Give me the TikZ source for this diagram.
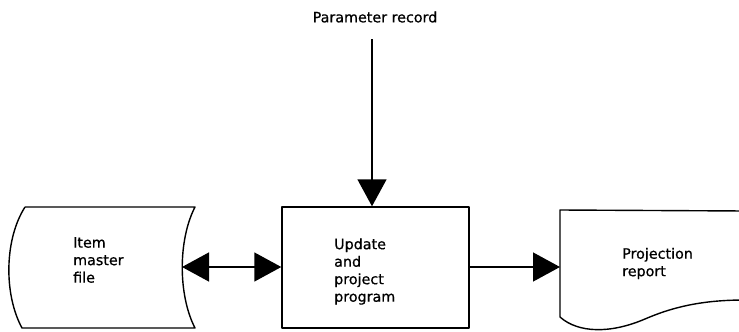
\documentclass[tikz,border=0pt]{standalone}
\usepackage{fontspec}
\setmainfont{DejaVu Sans}
\newfontfamily\labelfont{DejaVu Sans}[FakeBold=0.7]
\usetikzlibrary{arrows.meta}
\begin{document}
\begin{tikzpicture}[x=1pt,y=-1pt,
  outline/.style={line width=1.4pt, line join=round},
  flow/.style={line width=1.4pt, -{Triangle[length=27pt,width=29pt]}},
  twoway/.style={line width=1.4pt, {Triangle[length=27pt,width=29pt]}-{Triangle[length=27pt,width=29pt]}},
  label/.style={inner sep=0pt, align=left, font=\labelfont\fontsize{14.3}{17.5}\selectfont},
  procbox/.style={outline, draw, minimum width=187pt, minimum height=121pt, inner sep=0pt}]
\useasboundingbox (0,0) rectangle (739,332);

% on-line storage: item master file
\draw[outline] (25,207) -- (195,207)
  .. controls (178,240) and (178,295) .. (195,328)
  -- (22,328)
  .. controls (4,295) and (4,240) .. (25,207);
\coordinate (master) at (182,267);
\node[label, anchor=west] (mastertext) at (73,260) {Item\\master\\file};

% process box
\node[procbox] (prog) at (375.5,267.5) {};
\node[label, anchor=west] (progtext) at (334,271.5) {Update\\and\\project\\program};

% document: projection report
\draw[outline] (745,211) -- (560,210) -- (560,317)
  .. controls (578,333) and (610,334) .. (645,319)
  .. controls (675,306) and (705,300) .. (745,300);
\coordinate (report) at (560,267);
\node[label, anchor=west] (reporttext) at (622,263.5) {Projection\\report};

% parameter input
\node[label, anchor=center] (param) at (375,17) {Parameter record};
\coordinate (paramstart) at (372,39);

% connectors
\draw[twoway] (master) -- (prog.west |- master);
\draw[flow] (prog.east |- report) -- (report);
\draw[flow] (paramstart) -- (paramstart |- prog.north);
\end{tikzpicture}
\end{document}
